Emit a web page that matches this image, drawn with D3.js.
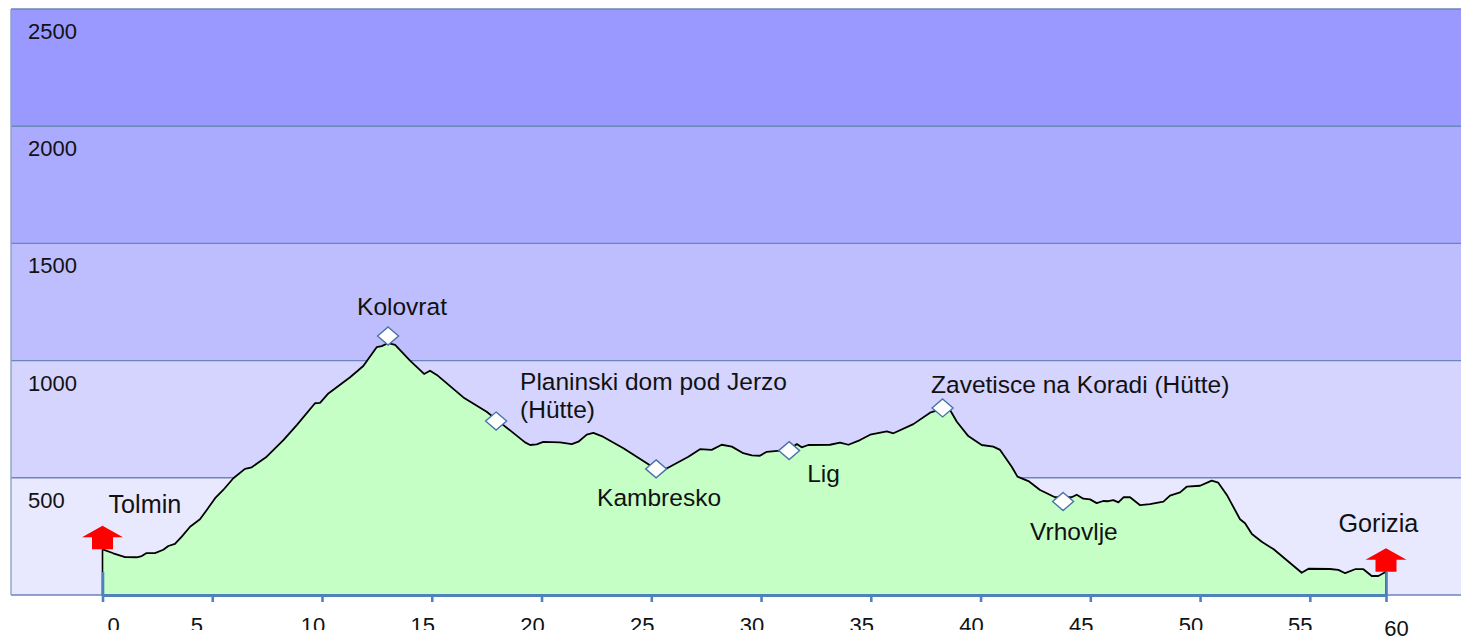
<!DOCTYPE html>
<html>
<head>
<meta charset="utf-8">
<script src="https://cdnjs.cloudflare.com/ajax/libs/d3/7.8.5/d3.min.js"></script>
<style>
html,body{margin:0;padding:0;background:#fff;overflow:hidden}
svg{display:block}
text{font-family:"Liberation Sans",Arial,sans-serif;fill:#111}
</style>
</head>
<body>
<svg id="c" width="1461" height="639"></svg>
<script>
const routeKm = [0.01,0.49,1.03,1.56,1.79,2.01,2.39,2.77,3.00,3.30,3.61,3.99,4.44,4.75,5.13,5.50,5.96,6.49,6.80,7.48,8.24,8.85,9.68,9.91,10.29,11.28,11.88,12.49,12.72,13.02,13.33,14.01,14.65,14.92,15.23,16.44,17.50,18.64,19.25,19.48,19.78,20.08,20.84,21.38,21.68,22.06,22.36,22.74,23.73,25.17,25.40,25.70,26.69,27.22,27.75,28.21,28.67,29.19,29.58,29.95,30.26,31.24,31.63,31.85,32.15,33.14,33.60,33.98,34.51,34.97,35.73,36.03,36.94,37.70,38.31,38.61,38.92,39.44,40.05,40.58,40.89,41.42,41.68,42.18,42.71,43.39,44.15,44.38,44.68,44.99,45.29,45.59,45.82,46.05,46.28,46.51,46.81,47.27,47.72,48.33,48.63,49.09,49.39,50.00,50.53,50.83,51.22,51.82,52.05,52.36,52.81,53.34,54.63,54.94,55.92,56.30,56.61,57.06,57.44,57.82,58.12,58.47];
const routeElevation = [195,178,162,161,166,179,179,193,209,218,249,291,323,363,413,448,498,538,545,590,661,725,818,820,860,929,977,1057,1062,1075,1067,1000,943,957,939,843,782,697,651,640,643,653,651,644,654,684,692,678,626,540,533,540,590,622,619,641,633,605,596,594,611,619,644,630,640,641,650,641,661,684,698,690,729,778,796,789,739,678,640,633,619,547,505,486,448,417,417,428,411,408,392,401,400,405,395,417,417,383,388,398,424,438,462,466,488,479,427,323,306,260,227,196,95,112,111,107,93,110,110,81,81,99];

const elevationBands = [0,500,1000,1500,2000,2500];
const bandColors = ["#e8e8ff","#d4d4ff","#bebeff","#aaaaff","#9999ff"];
const elevationLabels = ["500","1000","1500","2000","2500"];
const elevationLabelValues = [500,1000,1500,2000,2500];

const tickKm = [0,5,10,15,20,25,30,35,40,45,50,55,58.47];
const tickLabels = ["0","5","10","15","20","25","30","35","40","45","50","55","60"];

const waypointNames = ["Kolovrat","Planinski dom pod Jerzo","Kambresko","Lig","Zavetisce na Koradi (Hütte)","Vrhovlje"];
const waypointKm = [13.01,17.93,25.22,31.28,38.27,43.76];
const waypointElevation = [1105,742,538,616,798,399];

const endNames = ["Tolmin","Gorizia"];
const endKm = [0,58.47];
const endElevation = [195,99];

const svg = d3.select("#c");
const W = 1461, plotLeft = 11, plotTop = 9, plotBottom = 595;
const x = d3.scaleLinear().domain([0,58.47]).range([102.5,1386]);
const y = d3.scaleLinear().domain([0,2500]).range([plotBottom,plotTop]);
const BORDER = "#6b86b8", AXIS = "#4f81bd";

// elevation bands
svg.append("g").selectAll("rect").data(bandColors).join("rect")
  .attr("x",plotLeft).attr("width",W-plotLeft)
  .attr("y",(d,i)=>y(elevationBands[i+1]))
  .attr("height",(d,i)=>y(elevationBands[i])-y(elevationBands[i+1]))
  .attr("fill",d=>d);
svg.append("g").selectAll("line").data(elevationBands).join("line")
  .attr("x1",plotLeft).attr("x2",W).attr("y1",d=>y(d)).attr("y2",d=>y(d))
  .attr("stroke",BORDER).attr("stroke-width",1.4);
svg.append("line").attr("x1",plotLeft).attr("x2",plotLeft).attr("y1",plotTop).attr("y2",plotBottom)
  .attr("stroke","#8aa2c8").attr("stroke-width",1.4);

// elevation labels
const elevLabelNudge = [0,0,-1,-1,0];
svg.append("g").selectAll("text").data(elevationLabelValues).join("text")
  .attr("x",28).attr("y",(d,i)=>y(d)+30.3+elevLabelNudge[i]).attr("font-size",22)
  .text((d,i)=>elevationLabels[i]);

// profile
const points = routeKm.map((k,i)=>[k,routeElevation[i]]);
svg.append("path").datum(points)
  .attr("d",d3.area().x(d=>x(d[0])).y0(y(0)).y1(d=>y(d[1])).curve(d3.curveLinear))
  .attr("fill","#c6ffc6");
svg.append("path").datum(points)
  .attr("d",d3.line().x(d=>x(d[0])).y(d=>y(d[1])).curve(d3.curveLinear))
  .attr("fill","none").attr("stroke","#000").attr("stroke-width",1.8).attr("stroke-linejoin","round");

// black verticals at both ends
svg.append("g").selectAll("line").data(endKm).join("line")
  .attr("x1",d=>x(d)).attr("x2",d=>x(d))
  .attr("y1",(d,i)=>y(endElevation[i])).attr("y2",plotBottom)
  .attr("stroke","#000").attr("stroke-width",1.6);

// x axis
const axis = d3.axisBottom(x).tickValues(tickKm).tickSizeOuter(0).tickSizeInner(7)
  .tickFormat((d,i)=>tickLabels[i]);
const gx = svg.append("g").attr("transform",`translate(0,${plotBottom})`).call(axis);
gx.select(".domain").attr("stroke",AXIS).attr("stroke-width",3);
gx.selectAll(".tick line").attr("stroke",AXIS).attr("stroke-width",2.6)
  .attr("y1",(d,i)=>(i===0||i===tickKm.length-1)?-23:0);
const tickDx = [10.5,-16,-9.5,-9.5,-9.5,-9.5,-9.5,-9.5,-9.5,-9.5,-9.5,-10,10];
gx.selectAll(".tick text")
  .attr("fill","#111").attr("font-family",'"Liberation Sans",Arial,sans-serif')
  .attr("font-size",22).attr("dy",0)
  .attr("x",(d,i)=>tickDx[i])
  .attr("y",(d,i)=>i===tickKm.length-1?41:38)
  .attr("clip-path",(d,i)=>i===tickKm.length-1?null:"url(#tickClipLocal)");
// the regular labels are cut off just under the digits, as in the source
gx.append("clipPath").attr("id","tickClipLocal").append("rect")
  .attr("x",-30).attr("y",10).attr("width",60).attr("height",25);

// red arrows
const arrow = "M0,0 L-20.5,11.5 L-10.5,11.5 L-10.5,23.5 L10.5,23.5 L10.5,11.5 L20.5,11.5 Z";
svg.append("g").selectAll("path").data(endKm).join("path")
  .attr("d",arrow).attr("fill","#ff0000")
  .attr("transform",(d,i)=>`translate(${x(d)},${y(endElevation[i])-23.5})`);

// waypoint diamonds
const diamond = "M0,-9 L10.5,0 L0,9 L-10.5,0 Z";
svg.append("g").selectAll("path").data(waypointKm).join("path")
  .attr("d",diamond).attr("fill","#fff").attr("stroke","#4a72a8").attr("stroke-width",1.4)
  .attr("transform",(d,i)=>`translate(${x(d)},${y(waypointElevation[i])})`);

// waypoint labels
const wpOffset = [[-31,-21],[24,-31],[-59,37.5],[18,31],[-11.5,-15],[-33,38.5]];
const wpLabels = svg.append("g").selectAll("text").data(waypointNames).join("text")
  .attr("font-size",24.5)
  .attr("x",(d,i)=>x(waypointKm[i])+wpOffset[i][0])
  .attr("y",(d,i)=>y(waypointElevation[i])+wpOffset[i][1]);
wpLabels.filter((d,i)=>i!==1).text(d=>d);
wpLabels.filter((d,i)=>i===1).each(function(){
  const t = d3.select(this), px = +t.attr("x");
  t.append("tspan").attr("x",px).text("Planinski dom pod Jerzo");
  t.append("tspan").attr("x",px).attr("dy",27.5).text("(Hütte)");
});

// end labels
const endOffset = [[6,-36.5],[-47.5,-39.5]];
svg.append("g").selectAll("text").data(endNames).join("text")
  .attr("font-size",25.2)
  .attr("x",(d,i)=>x(endKm[i])+endOffset[i][0])
  .attr("y",(d,i)=>y(endElevation[i])+endOffset[i][1])
  .text(d=>d);
</script>
</body>
</html>
